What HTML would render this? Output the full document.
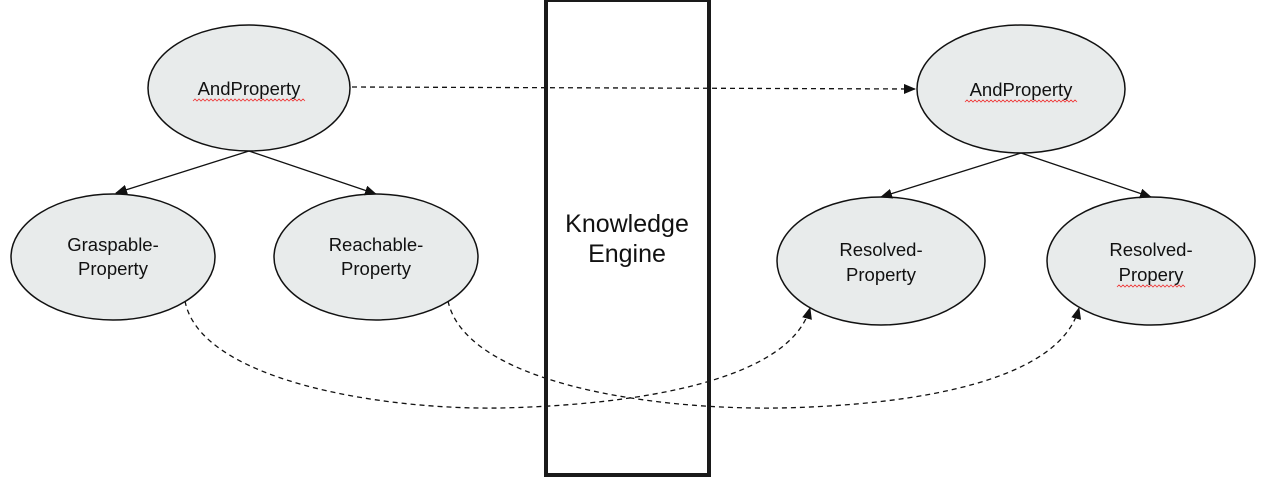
<!DOCTYPE html>
<html><head><meta charset="utf-8"><style>
html,body{margin:0;padding:0;background:#fff;width:1268px;height:477px;overflow:hidden}
text{font-family:"Liberation Sans",sans-serif;fill:#111}
</style></head><body>
<svg width="1268" height="477" viewBox="0 0 1268 477" xmlns="http://www.w3.org/2000/svg">
<defs>
<marker id="a" markerWidth="12" markerHeight="10" refX="11" refY="5" orient="auto" markerUnits="userSpaceOnUse">
<path d="M0,0 L12,5 L0,10 z" fill="#111"/></marker>
</defs>
<g fill="#e8ebeb" stroke="#111" stroke-width="1.5">
<ellipse cx="249" cy="88" rx="101" ry="63"/>
<ellipse cx="113" cy="257" rx="102" ry="63"/>
<ellipse cx="376" cy="257" rx="102" ry="63"/>
<ellipse cx="1021" cy="89" rx="104" ry="64"/>
<ellipse cx="881" cy="261" rx="104" ry="64"/>
<ellipse cx="1151" cy="261" rx="104" ry="64"/>
</g>
<g stroke="#111" stroke-width="1.3" fill="none">
<line x1="249" y1="151" x2="116" y2="193" marker-end="url(#a)"/>
<line x1="249" y1="151" x2="376" y2="194" marker-end="url(#a)"/>
<line x1="1021" y1="153" x2="881" y2="197" marker-end="url(#a)"/>
<line x1="1021" y1="153" x2="1151" y2="197" marker-end="url(#a)"/>
</g>
<g stroke="#111" stroke-width="1.3" fill="none" stroke-dasharray="5,4">
<line x1="352" y1="87" x2="915" y2="89" marker-end="url(#a)"/>
<path d="M185,301 C200,380 380,410 500,408 C640,405 790,380 810,308" marker-end="url(#a)"/>
<path d="M448,301 C465,380 640,410 780,408 C920,405 1060,380 1079,308" marker-end="url(#a)"/>
</g>
<rect x="546" y="0" width="163" height="475" fill="none" stroke="#1a1a1a" stroke-width="4"/>
<g font-size="18.5" text-anchor="middle">
<text x="249" y="95">AndProperty</text>
<text x="113" y="251">Graspable-</text><text x="113" y="275">Property</text>
<text x="376" y="251">Reachable-</text><text x="376" y="275">Property</text>
<text x="1021" y="96">AndProperty</text>
<text x="881" y="256">Resolved-</text><text x="881" y="281">Property</text>
<text x="1151" y="256">Resolved-</text><text x="1151" y="281">Propery</text>
</g>
<g font-size="25" text-anchor="middle">
<text x="627" y="232">Knowledge</text><text x="627" y="262">Engine</text>
</g>
<g stroke="#e33" stroke-width="0.8" fill="none">
<path d="M193,101 l2,-2 l2,2 l2,-2 l2,2 l2,-2 l2,2 l2,-2 l2,2 l2,-2 l2,2 l2,-2 l2,2 l2,-2 l2,2 l2,-2 l2,2 l2,-2 l2,2 l2,-2 l2,2 l2,-2 l2,2 l2,-2 l2,2 l2,-2 l2,2 l2,-2 l2,2 l2,-2 l2,2 l2,-2 l2,2 l2,-2 l2,2 l2,-2 l2,2 l2,-2 l2,2 l2,-2 l2,2 l2,-2 l2,2 l2,-2 l2,2 l2,-2 l2,2 l2,-2 l2,2 l2,-2 l2,2 l2,-2 l2,2 l2,-2 l2,2 l2,-2 l2,2"/>
<path d="M965,102 l2,-2 l2,2 l2,-2 l2,2 l2,-2 l2,2 l2,-2 l2,2 l2,-2 l2,2 l2,-2 l2,2 l2,-2 l2,2 l2,-2 l2,2 l2,-2 l2,2 l2,-2 l2,2 l2,-2 l2,2 l2,-2 l2,2 l2,-2 l2,2 l2,-2 l2,2 l2,-2 l2,2 l2,-2 l2,2 l2,-2 l2,2 l2,-2 l2,2 l2,-2 l2,2 l2,-2 l2,2 l2,-2 l2,2 l2,-2 l2,2 l2,-2 l2,2 l2,-2 l2,2 l2,-2 l2,2 l2,-2 l2,2 l2,-2 l2,2 l2,-2 l2,2"/>
<path d="M1117,287 l2,-2 l2,2 l2,-2 l2,2 l2,-2 l2,2 l2,-2 l2,2 l2,-2 l2,2 l2,-2 l2,2 l2,-2 l2,2 l2,-2 l2,2 l2,-2 l2,2 l2,-2 l2,2 l2,-2 l2,2 l2,-2 l2,2 l2,-2 l2,2 l2,-2 l2,2 l2,-2 l2,2 l2,-2 l2,2 l2,-2 l2,2"/>
</g>
</svg>
</body></html>
